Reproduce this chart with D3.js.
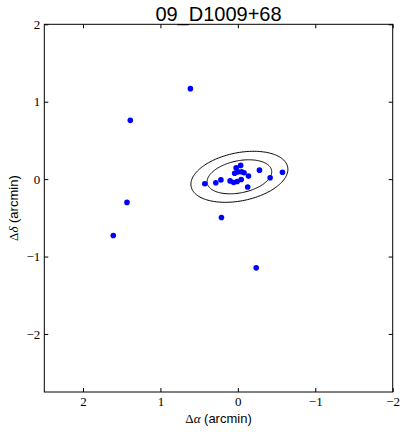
<!DOCTYPE html>
<html><head><meta charset="utf-8">
<script src="https://cdn.jsdelivr.net/npm/d3@7"></script>
<style>body{margin:0;background:#fff;} svg{display:block;}</style>
</head><body>
<svg id="c" width="407" height="432"></svg>
<script>
const title = "09_D1009+68";
const xDomain = [2.5, -2];
const yDomain = [-2.75, 2];
const xTicks = [2, 1, 0, -1, -2];
const yTicks = [2, 1, 0, -1, -2];
// offsets of sources (arcmin)
const dAlpha = [0.427, 0.285, 0.219, 0.100, 0.054, 0.009, -0.043, -0.127, -0.137, -0.080, -0.049, -0.036, 0.022, 0.041, -0.001, -0.279, -0.417, -0.576,
                0.613, 1.389, 1.432, 1.609, 0.212, -0.237];
const dDelta = [-0.060, -0.047, -0.010, -0.023, -0.043, -0.030, -0.004, -0.101, 0.039, 0.083, 0.096, 0.177, 0.145, 0.076, 0.093, 0.116, 0.018, 0.089,
                1.169, 0.759, -0.301, -0.728, -0.495, -1.146];
// error ellipses: center, semi-axes (arcmin), rotation (deg), and scale multiples
const ellCenter = [-0.02, 0.03];
const ellAxes = [0.424, 0.207];
const ellAngle = -11.5;
const ellScales = [1, 1.5];

const W = 407, H = 432;
const m = {l: 44.3, r: 392.7, t: 24.3, b: 392};
const x = d3.scaleLinear().domain(xDomain).range([m.l, m.r]);
const y = d3.scaleLinear().domain(yDomain).range([m.b, m.t]);
const svg = d3.select("#c");

const fmt = v => v < 0 ? "\u2212" + Math.abs(v) : String(v);
const tickFont = "'Liberation Serif', serif";

// ellipses
const phi = ellAngle * Math.PI / 180;
const line = d3.line().x(d => x(d[0])).y(d => y(d[1]));
ellScales.forEach(s => {
  const pts = d3.range(0, 361, 2).map(t => {
    const T = t * Math.PI / 180;
    const a = ellAxes[0] * s, b = ellAxes[1] * s;
    const u = a * Math.cos(T), v = b * Math.sin(T);
    return [ellCenter[0] + u * Math.cos(phi) - v * Math.sin(phi),
            ellCenter[1] + u * Math.sin(phi) + v * Math.cos(phi)];
  });
  svg.append("path").attr("d", line(pts)).attr("fill", "none")
     .attr("stroke", "#000").attr("stroke-width", 1);
});

// points
svg.append("g").selectAll("circle").data(dAlpha.map((a, i) => [a, dDelta[i]]))
  .join("circle").attr("cx", d => x(d[0])).attr("cy", d => y(d[1]))
  .attr("r", 2.8).attr("fill", "#0000ff");

// axes with inward ticks
const tl = 4;
const gb = svg.append("g").attr("transform", `translate(0,${m.b})`)
  .call(d3.axisBottom(x).tickValues(xTicks).tickSizeInner(-tl).tickSizeOuter(0).tickPadding(5).tickFormat(fmt));
const gt = svg.append("g").attr("transform", `translate(0,${m.t})`)
  .call(d3.axisTop(x).tickValues(xTicks).tickSizeInner(-tl).tickSizeOuter(0).tickFormat(""));
const gl = svg.append("g").attr("transform", `translate(${m.l},0)`)
  .call(d3.axisLeft(y).tickValues(yTicks).tickSizeInner(-tl).tickSizeOuter(0).tickPadding(4).tickFormat(fmt));
const gr = svg.append("g").attr("transform", `translate(${m.r},0)`)
  .call(d3.axisRight(y).tickValues(yTicks).tickSizeInner(-tl).tickSizeOuter(0).tickFormat(""));
[gb, gt, gl, gr].forEach(g => {
  g.select(".domain").remove();
  g.selectAll("line").attr("stroke", "#000").attr("stroke-width", 1);
  g.selectAll("text").attr("font-family", tickFont).attr("font-size", 13).attr("fill", "#000");
});

// frame
svg.append("rect").attr("x", m.l).attr("y", m.t).attr("width", m.r - m.l).attr("height", m.b - m.t)
  .attr("fill", "none").attr("stroke", "#000").attr("stroke-width", 1);

// title
svg.append("text").attr("x", (m.l + m.r) / 2).attr("y", 20.5).attr("text-anchor", "middle")
  .attr("font-family", "'Liberation Sans', sans-serif").attr("font-size", 20).text(title);

// x label
const xl = svg.append("text").attr("x", (m.l + m.r) / 2).attr("y", 423).attr("text-anchor", "middle")
  .attr("font-size", 13);
xl.append("tspan").attr("font-family", tickFont).text("\u0394");
xl.append("tspan").attr("font-family", tickFont).attr("font-style", "italic").text("\u03b1");
xl.append("tspan").attr("font-family", "'Liberation Sans', sans-serif").text(" (arcmin)");

// y label
const yl = svg.append("text").attr("transform", `translate(18,${(m.t + m.b) / 2}) rotate(-90)`)
  .attr("text-anchor", "middle").attr("font-size", 13);
yl.append("tspan").attr("font-family", tickFont).text("\u0394");
yl.append("tspan").attr("font-family", tickFont).attr("font-style", "italic").text("\u03b4");
yl.append("tspan").attr("font-family", "'Liberation Sans', sans-serif").text(" (arcmin)");
</script>
</body></html>
